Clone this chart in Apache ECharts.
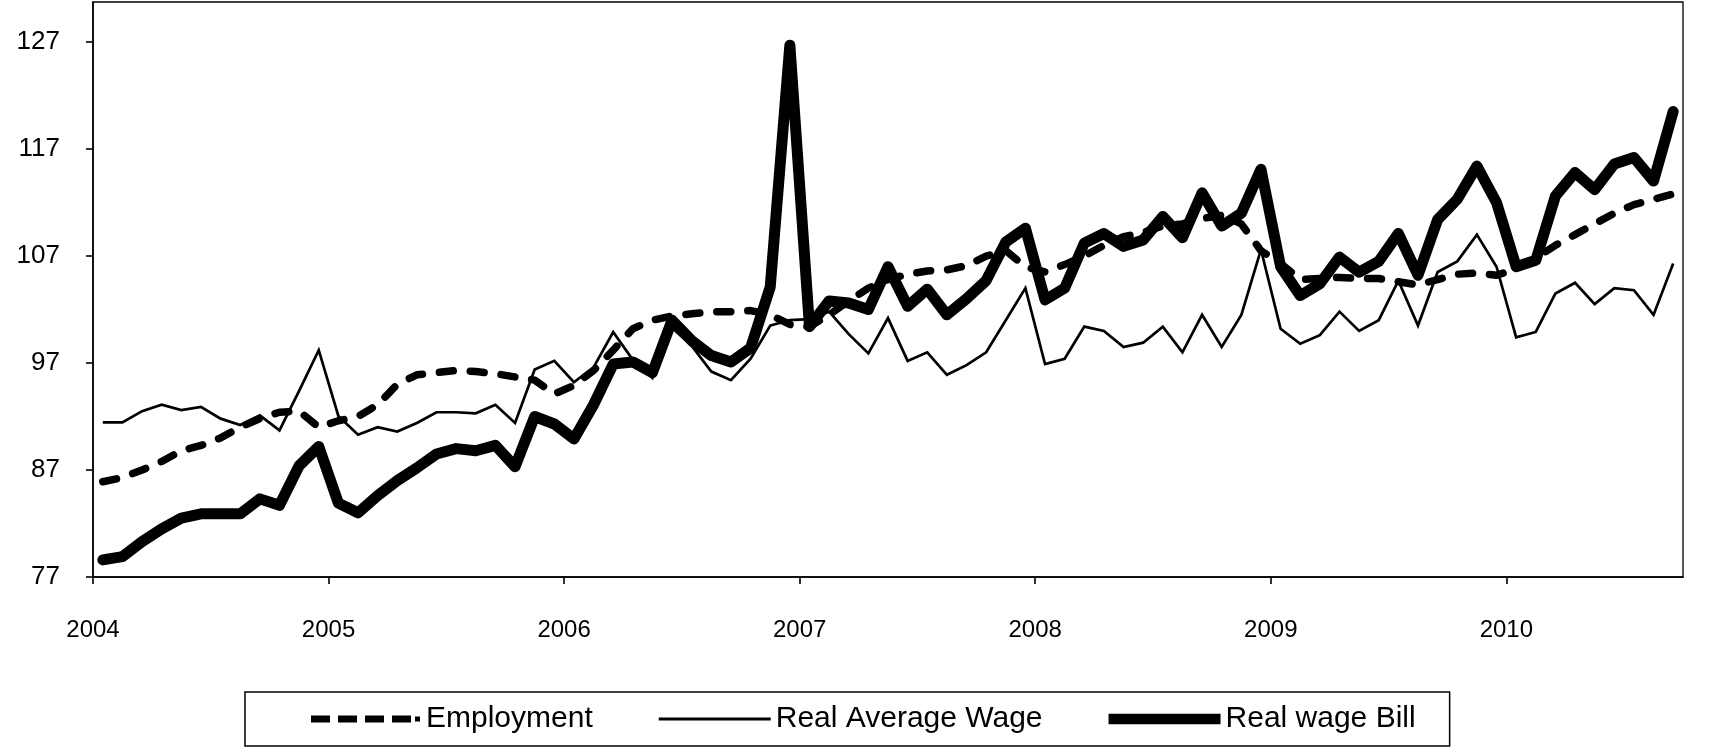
<!DOCTYPE html>
<html>
<head>
<meta charset="utf-8">
<script src="https://cdn.jsdelivr.net/npm/echarts@6/dist/echarts.min.js"></script>
<style>
html,body{margin:0;padding:0;background:#fff;}
#chart{width:1711px;height:752px;}
</style>
</head>
<body>
<div id="chart"></div>
<script>
// Monthly series, January 2004 onward
const yearLabels = ['2004','2005','2006','2007','2008','2009','2010'];
const yTicks = [77, 87, 97, 107, 117, 127];

const employment = [
  85.9, 86.3, 87.0, 87.8, 88.8, 89.3, 90.0, 91.0, 91.8, 92.4, 92.5, 91.0,
  91.6, 92.0, 93.1, 95.0, 95.9, 96.1, 96.3, 96.2, 96.0, 95.7, 95.4, 94.1,
  94.9, 96.3, 98.2, 100.2, 101.0, 101.4, 101.6, 101.8, 101.8, 101.9, 101.5, 100.6,
  100.4, 101.5, 102.8, 104.0, 104.8, 105.3, 105.6, 105.7, 106.1, 107.0, 107.5, 106.0,
  105.5, 106.2, 107.0, 108.0, 108.8, 109.2, 109.8, 110.0, 110.5, 110.8, 110.0, 107.5,
  106.3, 104.8, 104.9, 105.0, 104.9, 104.9, 104.6, 104.3, 104.8, 105.3, 105.4, 105.2,
  105.8, 106.8, 108.0, 109.0, 110.0, 111.0, 111.8, 112.3, 112.8
];

const realAverageWage = [
  91.45, 91.45, 92.5, 93.1, 92.6, 92.9, 91.8, 91.2, 92.1, 90.7, 94.4, 98.2,
  92.05, 90.3, 91.0, 90.6, 91.4, 92.4, 92.4, 92.3, 93.1, 91.4, 96.4, 97.2,
  95.2, 96.6, 99.9, 97.3, 95.6, 100.3, 98.6, 96.2, 95.4, 97.4, 100.5, 101.0,
  101.1, 101.8, 99.7, 97.9, 101.2, 97.2, 98.0, 95.9, 96.8, 98.0, 101.0, 104.0,
  96.9, 97.4, 100.4, 100.0, 98.5, 98.9, 100.4, 98.0, 101.5, 98.5, 101.5, 107.6,
  100.2, 98.8, 99.6, 101.8, 100.0, 101.0, 104.7, 100.5, 105.5, 106.5, 109.0, 106.0,
  99.4, 99.9, 103.5, 104.5, 102.5, 104.0, 103.8, 101.5, 106.3
];

const realWageBill = [
  78.6, 78.9, 80.3, 81.5, 82.5, 82.9, 82.9, 82.9, 84.3, 83.7, 87.4, 89.2,
  83.9, 83.0, 84.6, 86.0, 87.2, 88.5, 89.0, 88.8, 89.3, 87.3, 92.0, 91.3,
  89.9, 93.1, 96.9, 97.1, 96.1, 101.0, 99.1, 97.7, 97.1, 98.4, 104.1, 126.7,
  100.4, 102.8, 102.6, 102.0, 106.0, 102.3, 103.9, 101.5, 103.0, 104.7, 108.3, 109.6,
  102.9, 104.0, 108.2, 109.1, 107.9, 108.5, 110.7, 108.7, 112.9, 109.8, 111.0, 115.1,
  106.0, 103.3, 104.4, 106.9, 105.5, 106.5, 109.1, 105.2, 110.4, 112.3, 115.4, 112.0,
  106.0, 106.6, 112.6, 114.8, 113.2, 115.6, 116.2, 114.0, 120.5
];

const nMonths = realWageBill.length;
// each month sits at the centre of its category slot
const toPoints = arr => arr.map((v, i) => [i + 0.5, v]);

const font = 'Liberation Sans, Arial, sans-serif';
const chart = echarts.init(document.getElementById('chart'), null, {renderer: 'canvas'});

// legend icons drawn in a 112 x 12 box (tiny corner dots fix the box)
const box = 'M0,0h0.01v0.01h-0.01z M111.99,11.99h0.01v0.01h-0.01z ';
const iconDashed = 'path://' + box +
  'M2,2.5h19v7h-19z M29,2.5h19v7h-19z M56,2.5h19v7h-19z M83,2.5h19v7h-19z M106,3.5h5v5h-5z';
const iconThin = 'path://' + box + 'M0,4.6h112v2.8h-112z';
const iconThick = 'path://' + box + 'M0,0.8h112v10.4h-112z';

chart.setOption({
  backgroundColor: '#ffffff',
  animation: false,
  grid: {
    left: 93, top: 2, right: 28, bottom: 175,
    show: true, borderColor: '#000', borderWidth: 1.3, backgroundColor: 'transparent'
  },
  xAxis: {
    type: 'value',
    min: 0, max: nMonths, interval: 12,
    axisLine: {show: true, lineStyle: {color: '#000', width: 1.6}},
    axisTick: {show: true, length: 7, lineStyle: {color: '#000', width: 1.6}},
    splitLine: {show: false},
    axisLabel: {
      color: '#000', fontFamily: font, fontSize: 24, margin: 41,
      showMaxLabel: false,
      formatter: v => (v % 12 === 0 ? yearLabels[v / 12] || '' : '')
    }
  },
  yAxis: {
    type: 'value',
    min: yTicks[0], max: 130.74, interval: 10,
    axisLine: {show: true, lineStyle: {color: '#000', width: 1.6}},
    axisTick: {show: true, length: 7, lineStyle: {color: '#000', width: 1.6}},
    splitLine: {show: false},
    axisLabel: {
      color: '#000', fontFamily: font, fontSize: 26, margin: 33,
      showMaxLabel: false,
      formatter: v => (yTicks.indexOf(v) >= 0 ? String(v) : '')
    }
  },
  legend: {
    left: 245, top: 692,
    padding: [12, 34, 12, 64],
    borderColor: '#000', borderWidth: 1.5,
    itemWidth: 112, itemHeight: 12, itemGap: 66,
    textStyle: {color: '#000', fontFamily: font, fontSize: 30},
    data: [
      {name: 'Employment', icon: iconDashed, itemStyle: {color: '#000'}},
      {name: 'Real Average Wage', icon: iconThin, itemStyle: {color: '#000'}},
      {name: 'Real wage Bill', icon: iconThick, itemStyle: {color: '#000'}}
    ]
  },
  series: [
    {
      name: 'Employment', type: 'line', data: toPoints(employment),
      showSymbol: false, symbol: 'none',
      lineStyle: {color: '#000', width: 7.5, type: [14, 17], cap: 'round', join: 'round'},
      itemStyle: {color: '#000'}
    },
    {
      name: 'Real Average Wage', type: 'line', data: toPoints(realAverageWage),
      showSymbol: false, symbol: 'none',
      lineStyle: {color: '#000', width: 2.7, join: 'miter'},
      itemStyle: {color: '#000'}
    },
    {
      name: 'Real wage Bill', type: 'line', data: toPoints(realWageBill),
      showSymbol: false, symbol: 'none',
      lineStyle: {color: '#000', width: 11, join: 'round', cap: 'round'},
      itemStyle: {color: '#000'}
    }
  ]
});
</script>
</body>
</html>
